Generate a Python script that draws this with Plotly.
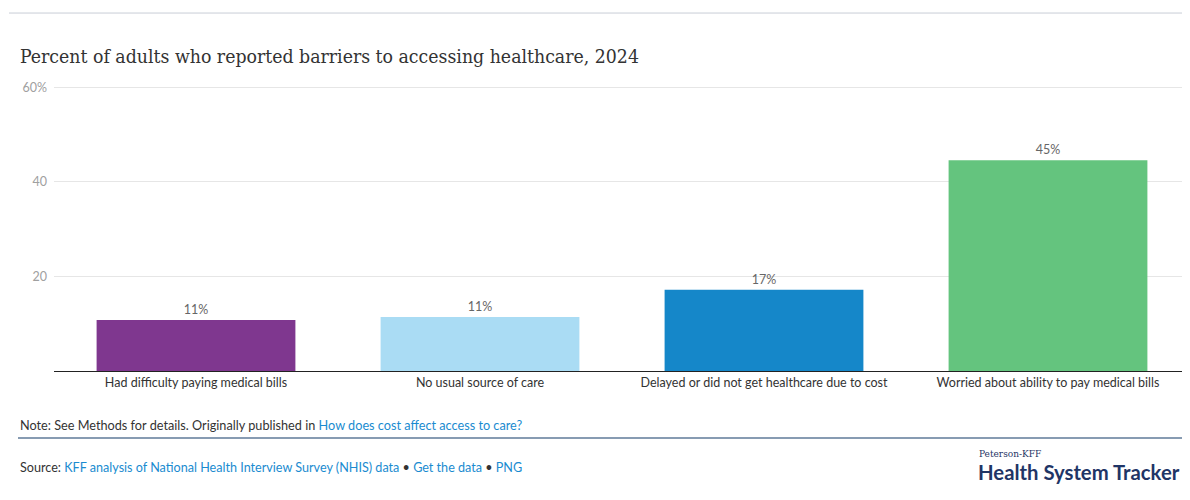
import plotly.graph_objects as go

categories = ["Had difficulty paying medical bills", "No usual source of care",
              "Delayed or did not get healthcare due to cost",
              "Worried about ability to pay medical bills"]
values = [10.8, 11.4, 17.2, 44.6]
labels = ["11%", "11%", "17%", "45%"]
colors = ["#7f378f", "#aadcf4", "#1587c9", "#64c47e"]
tick_vals = [20, 40, 60]
tick_text = ["20", "40", "60%"]

SANS = "Lato, Noto Sans, sans-serif"

fig = go.Figure()
fig.add_trace(go.Bar(
    x=categories, y=values, marker=dict(color=colors, line=dict(width=0)),
    text=labels, textposition="outside", cliponaxis=False,
    textfont=dict(family=SANS, size=12.5, color="#666666"),
    width=0.7, hoverinfo="skip",
))

fig.update_layout(
    width=1182, height=492,
    margin=dict(l=46, r=0, t=78, b=129),
    paper_bgcolor="white", plot_bgcolor="white",
    showlegend=False,
    xaxis=dict(showgrid=False, showline=True, linecolor="#222222", linewidth=1,
               ticks="", tickfont=dict(family=SANS, size=12.5, color="#333333"),
               fixedrange=True),
    yaxis=dict(range=[0, 60.3], tickvals=tick_vals, ticktext=tick_text,
               showgrid=True, gridcolor="#e6e6e6", gridwidth=1, zeroline=False,
               tickfont=dict(family=SANS, size=12.5, color="#a0a0a0"),
               ticks="", ticklabelstandoff=6, fixedrange=True),
)

# top rule
fig.add_shape(type="line", xref="paper", yref="paper", x0=-0.0396, x1=1, y0=1.256, y1=1.256,
              line=dict(color="#c8cdd6", width=1))
# title
fig.add_annotation(text="Percent of adults who reported barriers to accessing healthcare, 2024",
                   xref="paper", yref="paper", x=-0.0317, y=1.105, xanchor="left", yanchor="middle",
                   showarrow=False,
                   font=dict(family="DejaVu Serif Condensed, DejaVu Serif, serif", size=19.3, color="#333333"))
# note
fig.add_annotation(text="Note: See Methods for details. Originally published in <span style='color:#1a8bd0'>How does cost affect access to care?</span>",
                   xref="paper", yref="paper", x=-0.0317, y=-0.189, xanchor="left", yanchor="middle",
                   showarrow=False,
                   font=dict(family=SANS, size=12.7, color="#333333"))
# separator
fig.add_shape(type="line", xref="paper", yref="paper", x0=-0.0317, x1=1, y0=-0.235, y1=-0.235,
              line=dict(color="#5f7a99", width=1.5))
# source
fig.add_annotation(text="Source: <span style='color:#1a8bd0'>KFF analysis of National Health Interview Survey (NHIS) data</span> • <span style='color:#1a8bd0'>Get the data</span> • <span style='color:#1a8bd0'>PNG</span>",
                   xref="paper", yref="paper", x=-0.0317, y=-0.340, xanchor="left", yanchor="middle",
                   showarrow=False,
                   font=dict(family=SANS, size=12.6, color="#333333"))
# logo
fig.add_annotation(text="Peterson-KFF", xref="paper", yref="paper", x=0.8125, y=-0.290,
                   xanchor="left", yanchor="middle", showarrow=False,
                   font=dict(family="DejaVu Serif Condensed, DejaVu Serif, serif", size=10, color="#1f3566"))
fig.add_annotation(text="<b>Health System Tracker</b>", xref="paper", yref="paper", x=0.8115, y=-0.354,
                   xanchor="left", yanchor="middle", showarrow=False,
                   font=dict(family=SANS, size=20.3, color="#1f3566"))

fig.write_html("out.html")
